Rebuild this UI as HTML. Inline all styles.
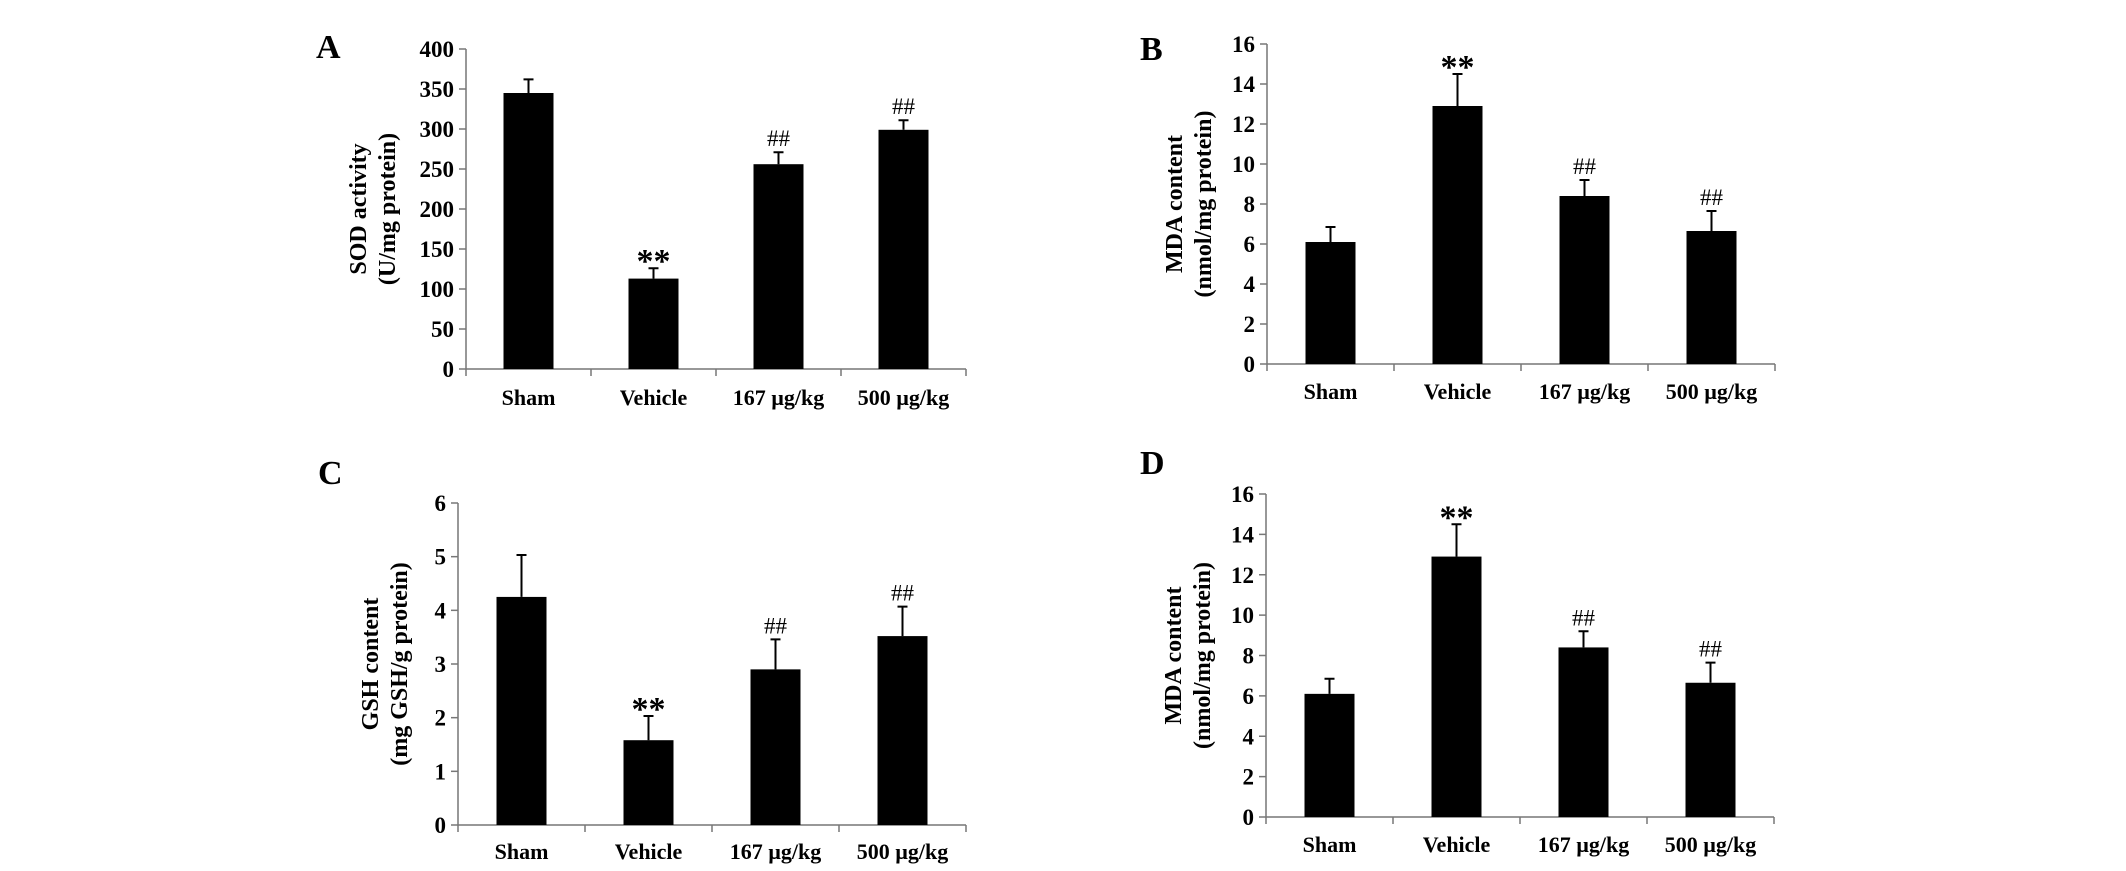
<!DOCTYPE html>
<html><head><meta charset="utf-8"><style>
body{margin:0;background:#fff;}
svg{display:block;font-family:"Liberation Serif",serif;font-weight:bold;}
</style></head><body>
<svg id="fig" width="2126" height="871" viewBox="0 0 2126 871"></svg>
<script>
const categories = ["Sham","Vehicle","167 µg/kg","500 µg/kg"];
const sodValues = [345,113,256,299];
const sodErrors = [17,13,15,12];
const sodMarks = ["","**","##","##"];
const sodTicks = [0,50,100,150,200,250,300,350,400];
const mdaValues = [6.1,12.9,8.4,6.65];
const mdaErrors = [0.75,1.6,0.8,1.0];
const mdaMarks = ["","**","##","##"];
const mdaTicks = [0,2,4,6,8,10,12,14,16];
const gshValues = [4.25,1.58,2.9,3.52];
const gshErrors = [0.78,0.45,0.56,0.55];
const gshMarks = ["","**","##","##"];
const gshTicks = [0,1,2,3,4,5,6];

const NS="http://www.w3.org/2000/svg";
const svg=document.getElementById('fig');
function mk(tag,attrs,parent,text){const e=document.createElementNS(NS,tag);for(const k in attrs)e.setAttribute(k,attrs[k]);if(text!==undefined)e.textContent=text;(parent||svg).appendChild(e);return e;}

function panel(id,letter,lx,ly,x0,step,yTop,y0,ticks,values,errors,marks,title1,title2,tx,labelY){
  const g=mk('g',{});
  
  
  const max=ticks[ticks.length-1];
  const y=v=>y0-(v/max)*(y0-yTop);
  const L=mk('text',{x:lx,y:ly,'font-size':34},g,letter);
  
  
  const xEnd=x0+step*categories.length;
  const ya=mk('line',{x1:x0,y1:yTop,x2:x0,y2:y0,stroke:'#777','stroke-width':1.5},g);
  
  
  const xa=mk('line',{x1:x0,y1:y0,x2:xEnd,y2:y0,stroke:'#777','stroke-width':1.5},g);
  
  
  ticks.forEach(t=>{
    mk('line',{x1:x0-7,y1:y(t),x2:x0,y2:y(t),stroke:'#777','stroke-width':1.5},g);
    const tl=mk('text',{x:x0-12,y:y(t)+8,'font-size':23,'text-anchor':'end'},g,String(t));
    
    
  });
  for(let i=0;i<=categories.length;i++){
    mk('line',{x1:x0+i*step,y1:y0,x2:x0+i*step,y2:y0+7,stroke:'#777','stroke-width':1.5},g);
  }
  categories.forEach((c,i)=>{
    const cx=x0+step*(i+0.5);
    const bw=50;
    const b=mk('rect',{x:cx-bw/2,y:y(values[i]),width:bw,height:y0-y(values[i]),fill:'#000'},g);
    
    
    const top=y(values[i]+errors[i]);
    const e=mk('path',{d:`M${cx},${y(values[i])}V${top}M${cx-5},${top}H${cx+5}`,stroke:'#000','stroke-width':2,fill:'none'},g);
    
    
    if(marks[i]){
      const isStar=marks[i]==='**';
      const m=mk('text',{x:cx,y:top-(isStar?-4:6),'font-size':isStar?34:23,'text-anchor':'middle','font-weight':isStar?'bold':'normal'},g,marks[i]);
      
      
    }
    const cl=mk('text',{x:cx,y:labelY,'font-size':22,'text-anchor':'middle'},g,c);
    
    
  });
  const my=(yTop+y0)/2;
  const t=mk('text',{transform:`translate(${tx},${my}) rotate(-90)`,'font-size':24,'text-anchor':'middle'},g);
  
  
  mk('tspan',{x:0,y:0},t,title1);
  mk('tspan',{x:0,y:29},t,title2);
}
panel('a','A',316,58,466,125,49,369,sodTicks,sodValues,sodErrors,sodMarks,'SOD activity','(U/mg protein)',366,405);
panel('b','B',1140,60,1267,127,44,364,mdaTicks,mdaValues,mdaErrors,mdaMarks,'MDA content','(nmol/mg protein)',1182,399);
panel('c','C',318,484,458,127,503,825,gshTicks,gshValues,gshErrors,gshMarks,'GSH content','(mg GSH/g protein)',378,859);
panel('d','D',1140,474,1266,127,494,817,mdaTicks,mdaValues,mdaErrors,mdaMarks,'MDA content','(nmol/mg protein)',1181,852);
</script>
</body></html>
